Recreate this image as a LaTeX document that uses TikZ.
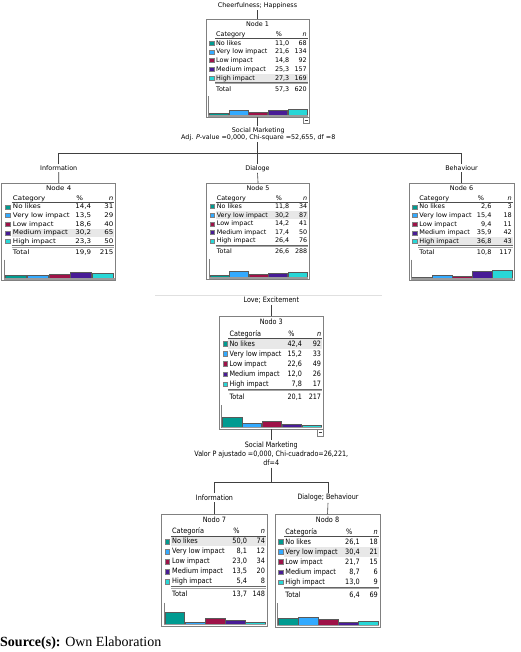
\documentclass[tikz,border=0pt]{standalone}
\usepackage{fontspec}
\setmainfont{DejaVu Sans}
\newfontfamily\srcfont{Liberation Serif}
\definecolor{c1}{RGB}{0,155,145}
\definecolor{c2}{RGB}{51,170,255}
\definecolor{c3}{RGB}{158,18,72}
\definecolor{c4}{RGB}{72,28,150}
\definecolor{c5}{RGB}{40,215,215}
\definecolor{hlgray}{RGB}{232,232,232}
\definecolor{boxgray}{RGB}{128,128,128}
\newcommand\smallfont{\fontsize{6.4}{7.4}\selectfont}
\newcommand\lowfont{\fontsize{6.4}{8.2}\selectfont}
\tikzset{
  every node/.style={inner sep=0.8pt, font=\smallfont},
  nodebox/.style={draw=boxgray, line width=0.9pt, minimum width=103pt, minimum height=98pt, anchor=north west, inner sep=0pt, outer sep=0pt},
  conn/.style={draw=black!75, line width=0.6pt},
  lbl/.style={inner sep=1.2pt, font=\smallfont},
  lowlbl/.style={inner sep=1.2pt, font=\lowfont, yscale=1.15},
  cell/.style={inner sep=0pt},
  bar/.style={draw=black!65, line width=0.3pt},
  sepline/.style={draw=black!12, line width=1.2pt},
}
\newcommand\tdHead[3]{%
  \node[cell] (#1-t) at (51.5,5.2) {#2};
  \node[cell, anchor=base west] (#1-h) at (10,17.4) {#3};
  \node[cell, anchor=base] (#1-hp) at ({\pcx-10.5},17.4) {\%};
  \node[cell, anchor=base east] (#1-hn) at (101,17.4) {\textit{n}};
  \draw[black!70, line width=0.5pt] (9,19.6) -- (101.5,19.6);
}
\newcommand\tdRow[6]{%
  \filldraw[fill=#3, draw=black!50, line width=0.2pt] (3.4,{22+(#2-1)*8.75}) rectangle (7.6,{26+(#2-1)*8.75});
  \node[cell, anchor=base west] (#1-l#2) at (10,{26.2+(#2-1)*8.75}) {#4};
  \node[cell, anchor=base east] (#1-p#2) at (\pcx,{26.2+(#2-1)*8.75}) {#5};
  \node[cell, anchor=base east] (#1-n#2) at (101,{26.2+(#2-1)*8.75}) {#6};
}
\newcommand\tdHl[1]{\fill[hlgray] (9,{24+(#1-1)*8.75-4.2}) rectangle (101.5,{24+(#1-1)*8.75+4.2});}
\newcommand\tdTotal[3]{%
  \draw[black!60, line width=0.45pt] (9,63.2) -- (101.5,63.2);
  \draw[black!35, line width=0.45pt] (9,64.6) -- (101.5,64.6);
  \node[cell, anchor=base west] (#1-tl) at (10,72.4) {Total};
  \node[cell, anchor=base east] (#1-tp) at (\pcx,72.4) {#2};
  \node[cell, anchor=base east] (#1-tn) at (101,72.4) {#3};
}
\newcommand\tdBars[5]{%
  \draw[boxgray, line width=0.6pt] (2.2,77.5) -- (2.2,97);
  \foreach \bv [count=\bi] in {#1,#2,#3,#4,#5}
    {\filldraw[bar, fill=c\bi] ({3.3+(\bi-1)*19.6},96) rectangle ++(19,{-max(\bv*0.205,0.5)});}
  \draw[boxgray!80, line width=1.4pt] (2.2,96.9) -- (102,96.9);
}
\newcommand\tdMinus{%
  \filldraw[draw=boxgray, fill=white, line width=0.5pt] (97.3,98.3) rectangle (103,104);
  \draw[black!75, line width=0.5pt] (98.7,101.2) -- (101.6,101.2);
}
\begin{document}
\begin{tikzpicture}[x=1pt, y=-1pt]
\useasboundingbox (0,0) rectangle (520,652);

% ---------- Node 1
\begin{scope}[shift={(206,19)}, transform shape]
  \def\pcx{83.5}
  \node[nodebox] (n1) at (0,0) {};
  \tdHl{5}
  \tdHead{n1}{Node 1}{Category}
  \tdRow{n1}{1}{c1}{No likes}{11,0}{68}
  \tdRow{n1}{2}{c2}{Very low impact}{21,6}{134}
  \tdRow{n1}{3}{c3}{Low impact}{14,8}{92}
  \tdRow{n1}{4}{c4}{Medium impact}{25,3}{157}
  \tdRow{n1}{5}{c5}{High impact}{27,3}{169}
  \tdTotal{n1}{57,3}{620}
  \tdBars{11.0}{21.6}{14.8}{25.3}{27.3}
  \tdMinus
\end{scope}

% ---------- Node 4
\begin{scope}[shift={(1.7,183)}, xscale=1.107, yscale=0.99, transform shape]
  \def\pcx{81}
  \node[nodebox] (n4) at (0,0) {};
  \tdHl{4}
  \tdHead{n4}{Node 4}{Category}
  \tdRow{n4}{1}{c1}{No likes}{14,4}{31}
  \tdRow{n4}{2}{c2}{Very low impact}{13,5}{29}
  \tdRow{n4}{3}{c3}{Low impact}{18,6}{40}
  \tdRow{n4}{4}{c4}{Medium impact}{30,2}{65}
  \tdRow{n4}{5}{c5}{High impact}{23,3}{50}
  \tdTotal{n4}{19,9}{215}
  \tdBars{14.4}{13.5}{18.6}{30.2}{23.3}
\end{scope}

% ---------- Node 5
\begin{scope}[shift={(206.7,183)}, xscale=0.997, yscale=0.98, transform shape]
  \def\pcx{83}
  \node[nodebox] (n5) at (0,0) {};
  \tdHl{2}
  \tdHead{n5}{Node 5}{Category}
  \tdRow{n5}{1}{c1}{No likes}{11,8}{34}
  \tdRow{n5}{2}{c2}{Very low impact}{30,2}{87}
  \tdRow{n5}{3}{c3}{Low impact}{14,2}{41}
  \tdRow{n5}{4}{c4}{Medium impact}{17,4}{50}
  \tdRow{n5}{5}{c5}{High impact}{26,4}{76}
  \tdTotal{n5}{26,6}{288}
  \tdBars{11.8}{30.2}{14.2}{17.4}{26.4}
\end{scope}

% ---------- Node 6
\begin{scope}[shift={(409,183)}, xscale=1.02, yscale=0.99, transform shape]
  \def\pcx{81}
  \node[nodebox] (n6) at (0,0) {};
  \tdHl{5}
  \tdHead{n6}{Node 6}{Category}
  \tdRow{n6}{1}{c1}{No likes}{2,6}{3}
  \tdRow{n6}{2}{c2}{Very low impact}{15,4}{18}
  \tdRow{n6}{3}{c3}{Low impact}{9,4}{11}
  \tdRow{n6}{4}{c4}{Medium impact}{35,9}{42}
  \tdRow{n6}{5}{c5}{High impact}{36,8}{43}
  \tdTotal{n6}{10,8}{117}
  \tdBars{2.6}{15.4}{9.4}{35.9}{36.8}
\end{scope}

% ---------- Nodo 3
\begin{scope}[shift={(219.3,316)}, xscale=1.01, yscale=1.153, transform shape]
  \def\pcx{82}
  \node[nodebox] (n3) at (0,0) {};
  \tdHl{1}
  \tdHead{n3}{Nodo 3}{Categoría}
  \tdRow{n3}{1}{c1}{No likes}{42,4}{92}
  \tdRow{n3}{2}{c2}{Very low impact}{15,2}{33}
  \tdRow{n3}{3}{c3}{Low impact}{22,6}{49}
  \tdRow{n3}{4}{c4}{Medium impact}{12,0}{26}
  \tdRow{n3}{5}{c5}{High impact}{7,8}{17}
  \tdTotal{n3}{20,1}{217}
  \tdBars{42.4}{15.2}{22.6}{12.0}{7.8}
  \tdMinus
\end{scope}

% ---------- Nodo 7
\begin{scope}[shift={(161.7,514)}, xscale=1.025, yscale=1.143, transform shape]
  \def\pcx{83.5}
  \node[nodebox] (n7) at (0,0) {};
  \tdHl{1}
  \tdHead{n7}{Nodo 7}{Categoría}
  \tdRow{n7}{1}{c1}{No likes}{50,0}{74}
  \tdRow{n7}{2}{c2}{Very low impact}{8,1}{12}
  \tdRow{n7}{3}{c3}{Low impact}{23,0}{34}
  \tdRow{n7}{4}{c4}{Medium impact}{13,5}{20}
  \tdRow{n7}{5}{c5}{High impact}{5,4}{8}
  \tdTotal{n7}{13,7}{148}
  \tdBars{50.0}{8.1}{23.0}{13.5}{5.4}
\end{scope}

% ---------- Nodo 8
\begin{scope}[shift={(275,514)}, xscale=1.02, yscale=1.153, transform shape]
  \def\pcx{83.3}
  \node[nodebox] (n8) at (0,0) {};
  \tdHl{2}
  \tdHead{n8}{Nodo 8}{Categoría}
  \tdRow{n8}{1}{c1}{No likes}{26,1}{18}
  \tdRow{n8}{2}{c2}{Very low impact}{30,4}{21}
  \tdRow{n8}{3}{c3}{Low impact}{21,7}{15}
  \tdRow{n8}{4}{c4}{Medium impact}{8,7}{6}
  \tdRow{n8}{5}{c5}{High impact}{13,0}{9}
  \tdTotal{n8}{6,4}{69}
  \tdBars{26.1}{30.4}{21.7}{8.7}{13.0}
\end{scope}

% ---------- upper labels and connectors
\node[lbl] (top) at (257.5,5.8) {Cheerfulness; Happiness};
\node[lbl, align=center] (s1) at (258.3,134) {Social Marketing\\Adj. \textit{P}-value =0,000, Chi-square =52,655, df =8};
\coordinate (j1) at (257.5,153.5);
\node[lbl] (l4) at (58.7,168.3) {Information};
\node[lbl] (l5) at (257.5,168.3) {Dialoge};
\node[lbl] (l6) at (461.5,168.3) {Behaviour};
\draw[conn] (top.south -| n1.north) -- (n1.north);
\draw[conn] (n1.south) -- (n1.south |- s1.north);
\draw[conn] (s1.south -| j1) -- (j1);
\draw[conn] (l4.north) -- (l4.north |- j1) -- (l6.north |- j1) -- (l6.north);
\draw[conn] (l5.north |- j1) -- (l5.north);
\draw[conn] (l4.south) -- (n4.north);
\draw[conn] (l5.south) -- (n5.north);
\draw[conn] (l6.south) -- (n6.north);

% ---------- separator
\draw[sepline] (155,295.5) -- (382,295.5);

% ---------- lower labels and connectors
\node[lowlbl] (love) at (271.3,300) {Love; Excitement};
\node[lowlbl, align=center] (s3) at (271.3,453.8) {Social Marketing\\Valor P ajustado =0,000, Chi-cuadrado=26,221,\\df=4};
\coordinate (j3) at (271.3,482.7);
\node[lowlbl] (l7) at (214.5,497.7) {Information};
\node[lowlbl] (l8) at (328,497.7) {Dialoge; Behaviour};
\draw[conn] (love.south -| n3.north) -- (n3.north);
\draw[conn] (n3.south) -- (n3.south |- s3.north);
\draw[conn] (s3.south -| j3) -- (j3);
\draw[conn] (l7.north) -- (l7.north |- j3) -- (l8.north |- j3) -- (l8.north);
\draw[conn] (l7.south) -- (n7.north);
\draw[conn] (l8.south) -- (n8.north);

% ---------- source
\node[anchor=west, inner sep=0pt, font=\srcfont\fontsize{14}{16}\selectfont] (src) at (0,643) {\textbf{Source(s):} Own Elaboration};
\end{tikzpicture}
\end{document}
